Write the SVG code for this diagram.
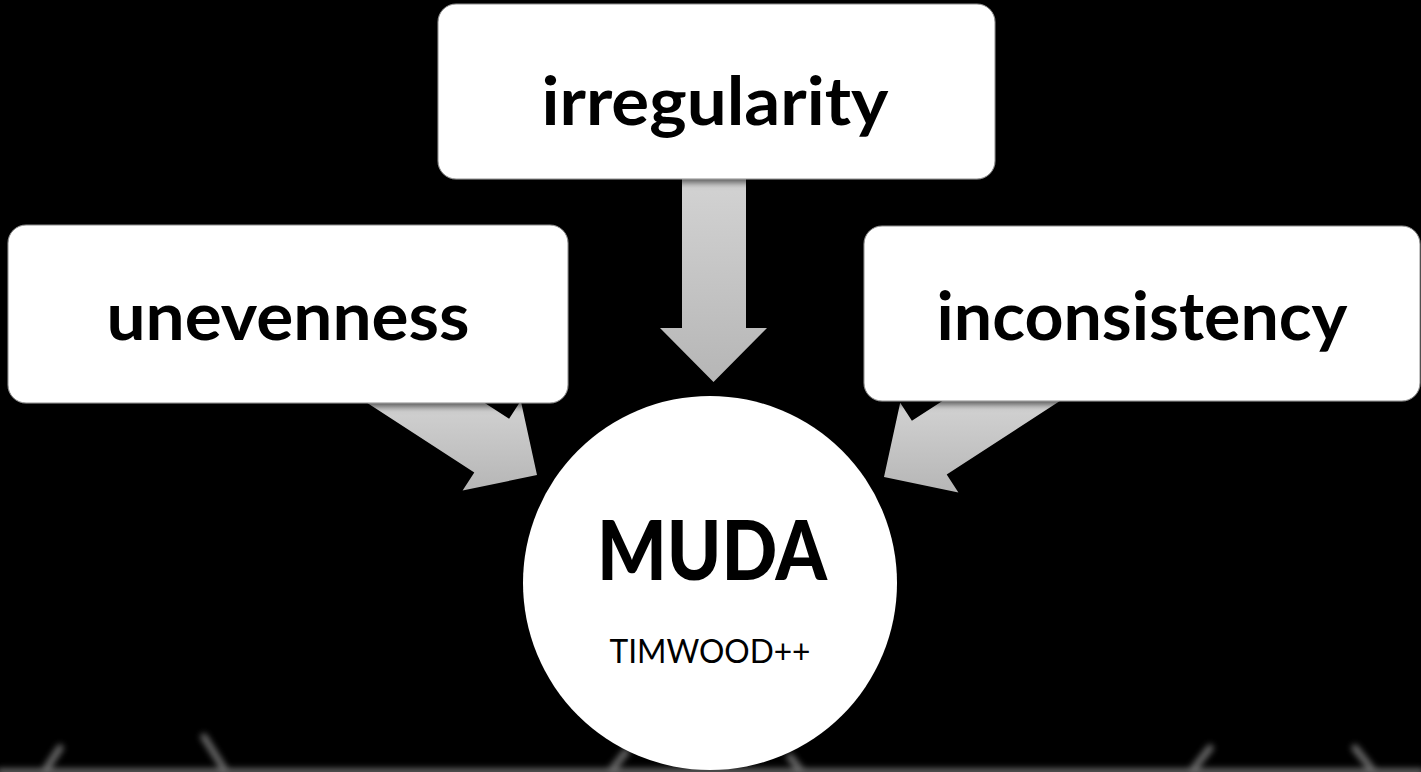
<svg xmlns="http://www.w3.org/2000/svg" width="1421" height="772" viewBox="0 0 1421 772">
  <defs>
    <linearGradient id="arrowFill" x1="0" y1="0" x2="0" y2="1">
      <stop offset="0" stop-color="#d4d4d4"/>
      <stop offset="1" stop-color="#b6b6b6"/>
    </linearGradient>
    <filter id="boxShadow" x="-5%" y="-10%" width="110%" height="130%">
      <feDropShadow dx="0" dy="3" stdDeviation="3" flood-color="#000" flood-opacity="0.6"/>
    </filter>
    <filter id="soft" x="-50%" y="-50%" width="200%" height="200%">
      <feGaussianBlur stdDeviation="3"/>
    </filter>
  </defs>
  <style>
    .box { fill: #ffffff; stroke: #8a8a8a; stroke-width: 1; }
    .arrow { fill: url(#arrowFill); }
    .label { font-family: Lato, "Liberation Sans", sans-serif; font-weight: bold; fill: #000; text-anchor: middle; }
    .title { font-family: Lato, "Liberation Sans", sans-serif; font-weight: 900; fill: #000; text-anchor: middle; }
    .sub { font-family: Lato, "Liberation Sans", sans-serif; fill: #000; text-anchor: middle; }
    .sketch { stroke: #8c8c8c; stroke-width: 7; stroke-linecap: round; fill: none; }
  </style>

  <rect width="1421" height="772" fill="#000"/>

  <!-- faint sketched horizon along the bottom edge -->
  <g id="backdrop" filter="url(#soft)" opacity="0.75">
    <line class="sketch" x1="0" y1="772" x2="1421" y2="772" stroke-width="4" stroke="#2e2e2e"/>
    <line class="sketch" x1="44" y1="772" x2="60" y2="748"/>
    <line class="sketch" x1="204" y1="737" x2="226" y2="772"/>
    <line class="sketch" x1="610" y1="772" x2="626" y2="752"/>
    <line class="sketch" x1="790" y1="757" x2="802" y2="772"/>
    <line class="sketch" x1="1191" y1="772" x2="1210" y2="748"/>
    <line class="sketch" x1="1355" y1="748" x2="1374" y2="772"/>
  </g>

  <!-- connectors: block arrows pointing at the centre circle -->
  <g id="connectors">
    <polygon class="arrow" points="682,170 682,328 660,328 713.5,382 767,328 746,328 746,170"/>
    <polygon class="arrow" points="355,395 474.3,472.4 462.6,490.5 537,475 520.8,400.7 509.1,418.8 472.4,395"/>
    <polygon class="arrow" points="1066,397 946.7,474.4 958.4,492.5 884,477 900.2,402.7 911.9,420.8 948.6,397"/>
  </g>

  <g id="node-irregularity">
    <rect class="box" x="438" y="4" width="557" height="175" rx="18" filter="url(#boxShadow)"/>
    <text class="label" x="715" y="125" font-size="66" textLength="347" lengthAdjust="spacingAndGlyphs">irregularity</text>
  </g>

  <g id="node-unevenness">
    <rect class="box" x="8" y="225" width="560" height="178" rx="18" filter="url(#boxShadow)"/>
    <text class="label" x="288" y="340" font-size="66" textLength="363" lengthAdjust="spacingAndGlyphs">unevenness</text>
  </g>

  <g id="node-inconsistency">
    <rect class="box" x="864" y="226" width="556" height="175" rx="18" filter="url(#boxShadow)"/>
    <text class="label" x="1142" y="340" font-size="66" textLength="411" lengthAdjust="spacingAndGlyphs">inconsistency</text>
  </g>

  <g id="node-muda">
    <circle cx="710" cy="583" r="187" fill="#ffffff"/>
    <text class="title" x="712" y="580" font-size="82" textLength="230" lengthAdjust="spacingAndGlyphs">MUDA</text>
    <text class="sub" x="710" y="663" font-size="32" textLength="201" lengthAdjust="spacingAndGlyphs">TIMWOOD++</text>
  </g>
</svg>
